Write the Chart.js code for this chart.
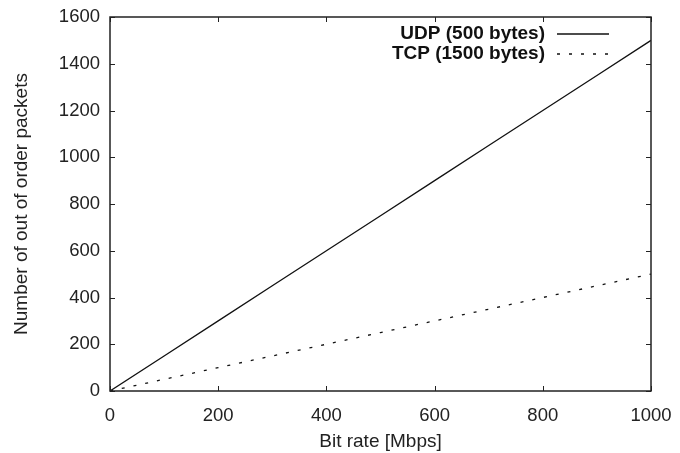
<!DOCTYPE html>
<html>
<head>
<meta charset="utf-8">
<script src="https://cdn.jsdelivr.net/npm/chart.js@4.4.1/dist/chart.umd.min.js"></script>
<style>
  html, body { margin: 0; padding: 0; background: #fff; }
  #wrap { width: 680px; height: 453px; }
</style>
</head>
<body>
<div id="wrap"><canvas id="chart" width="680" height="453"></canvas></div>
<script>
const bitRates = [0, 100, 200, 300, 400, 500, 600, 700, 800, 900, 1000];
const udpPackets = [0, 150, 300, 450, 600, 750, 900, 1050, 1200, 1350, 1500];
const tcpPackets = [0, 50, 100, 150, 200, 250, 300, 350, 400, 450, 500];
const seriesNames = ['UDP (500 bytes)', 'TCP (1500 bytes)'];

const ink = '#222';
const family = 'Liberation Sans, Arial, sans-serif';
const tickFont = { family: family, size: 18.5 };

// gnuplot style: ticks pointing inward on all four sides
const innerTicks = {
    id: 'innerTicks',
    afterDraw(chart) {
        const ctx = chart.ctx;
        const a = chart.chartArea;
        const x = chart.scales.x, y = chart.scales.y;
        const len = 5;
        ctx.save();
        ctx.strokeStyle = ink;
        ctx.lineWidth = 1;
        ctx.beginPath();
        x.ticks.forEach(t => {
            const px = Math.round(x.getPixelForValue(t.value)) + 0.5;
            ctx.moveTo(px, a.bottom); ctx.lineTo(px, a.bottom - len);
            ctx.moveTo(px, a.top); ctx.lineTo(px, a.top + len);
        });
        y.ticks.forEach(t => {
            const py = Math.round(y.getPixelForValue(t.value)) + 0.5;
            ctx.moveTo(a.left, py); ctx.lineTo(a.left + len, py);
            ctx.moveTo(a.right, py); ctx.lineTo(a.right - len, py);
        });
        ctx.stroke();
        ctx.lineWidth = 1.5;
        ctx.strokeRect(a.left, a.top, a.right - a.left, a.bottom - a.top);

        // key, text right-aligned with sample line after it
        ctx.font = 'bold 19px ' + family;
        ctx.fillStyle = '#111';
        ctx.textAlign = 'right';
        ctx.textBaseline = 'middle';
        chart.data.datasets.forEach((ds, i) => {
            const ty = a.top + 17 + i * 20;
            ctx.fillText(ds.label, a.left + 435, ty);
            ctx.beginPath();
            ctx.strokeStyle = ds.borderColor;
            ctx.lineWidth = ds.borderWidth;
            ctx.setLineDash(ds.borderDash || []);
            ctx.moveTo(a.left + 447, ty);
            ctx.lineTo(a.left + 499, ty);
            ctx.stroke();
        });
        ctx.restore();
    }
};

new Chart(document.getElementById('chart'), {
    type: 'line',
    data: {
        labels: bitRates,
        datasets: [
            { label: seriesNames[0], data: bitRates.map((b, i) => ({ x: b, y: udpPackets[i] })),
              borderColor: '#111', borderWidth: 1.3, pointRadius: 0, tension: 0, fill: false },
            { label: seriesNames[1], data: bitRates.map((b, i) => ({ x: b, y: tcpPackets[i] })),
              borderColor: '#111', borderWidth: 1.3, borderDash: [3, 9], pointRadius: 0, tension: 0, fill: false }
        ]
    },
    options: {
        responsive: false,
        animation: false,
        layout: { padding: { top: 17, right: 29, left: 10, bottom: 0 } },
        plugins: { legend: { display: false }, tooltip: { enabled: false } },
        scales: {
            x: {
                type: 'linear', min: 0, max: 1000,
                ticks: { stepSize: 200, color: ink, font: tickFont, padding: 14, callback: v => String(v) },
                grid: { display: false, drawTicks: false },
                border: { display: false },
                title: { display: true, text: 'Bit rate [Mbps]', color: ink, font: { family: family, size: 19 }, padding: { top: 2, bottom: 0 } },
                afterFit(s) { s.height = 62; s.paddingLeft = 0; s.paddingRight = 0; }
            },
            y: {
                min: 0, max: 1600,
                ticks: { stepSize: 200, color: ink, font: tickFont, padding: 10, callback: v => String(v) },
                grid: { display: false, drawTicks: false },
                border: { display: false },
                title: { display: true, text: 'Number of out of order packets', color: ink, font: { family: family, size: 19 }, padding: { top: 0, bottom: 4 } },
                afterFit(s) { s.width = 100; s.paddingTop = 0; s.paddingBottom = 0; }
            }
        }
    },
    plugins: [innerTicks]
});
</script>
</body>
</html>
